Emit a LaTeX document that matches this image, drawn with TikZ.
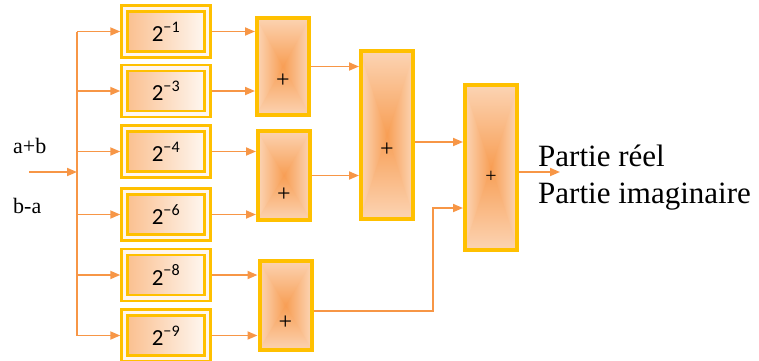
\documentclass[tikz,border=0pt]{standalone}
\usepackage{fontspec}
\setmainfont{Liberation Serif}
\newfontfamily\tms{Liberation Serif}
\newfontfamily\calib{Carlito}
\usetikzlibrary{arrows.meta,backgrounds}
\definecolor{lorange}{HTML}{F79646}
\definecolor{gold}{HTML}{FFC000}
\definecolor{pale}{HTML}{FDE9D9}
\pgfdeclarehorizontalshading{hramp}{100bp}{color(0bp)=(pale); color(18bp)=(pale); color(50bp)=(lorange!90!pale); color(82bp)=(pale); color(100bp)=(pale)}
\pgfdeclareverticalshading{vramp}{100bp}{color(0bp)=(pale); color(16bp)=(pale); color(50bp)=(lorange!90!pale); color(84bp)=(pale); color(100bp)=(pale)}

\begin{document}
\begin{tikzpicture}[x=1pt,y=-1pt,
		mult/.style={draw=gold,line width=2.6pt,double=pale!40!white,double distance=3.2pt,
			left color=lorange!62!white,right color=lorange!6!white,
			minimum width=83pt,minimum height=46pt,inner sep=0pt,outer sep=4.2pt,
			font=\calib\fontsize{23}{27}\selectfont},
		adder/.style={draw=gold,line width=4pt,minimum width=52pt,inner sep=0pt},
		plussign/.style={font=\tms\fontsize{24}{28}\selectfont,inner sep=0pt},
		txt/.style={anchor=base west,inner sep=0pt,font=\tms\fontsize{22}{26}\selectfont},
		wire/.style={draw=lorange,line width=1.8pt},
		arr/.style={wire,-{Triangle[length=10pt,width=8pt]}}]
				 %\draw[color=gray,step=10pt, help lines,opacity=0.3] (0,0) grid (759,360); %help grids
				 \useasboundingbox (0,0) rectangle (759,360);
				 \def\hglass#1{
								\begin{scope}[on background layer]
												\begin{scope}
																\clip ([shift={(2pt,-2pt)}]#1.north west) rectangle ([shift={(-2pt,2pt)}]#1.south east);
																\shade[shading=hramp] (#1.north west) rectangle (#1.south east);
																\begin{scope}
																				\clip (#1.north west) -- (#1.north east) -- (#1.center) -- (#1.south east) -- (#1.south west) -- (#1.center) -- cycle;
																				\shade[shading=vramp] (#1.north west) rectangle (#1.south east);
																\end{scope}
												\end{scope}
								\end{scope}
				 };
				 \node[mult] (m1) at (166,31.5) {2\textsuperscript{−1}};
				 \node[mult] (m2) at (166,91) {2\textsuperscript{−3}};
				 \node[mult] (m3) at (166,151.5) {2\textsuperscript{−4}};
				 \node[mult] (m4) at (166,214.5) {2\textsuperscript{−6}};
				 \node[mult] (m5) at (166,275) {2\textsuperscript{−8}};
				 \node[mult] (m6) at (166,335.5) {2\textsuperscript{−9}};
				 \node[adder,minimum height=97pt] (a1) at (283,66.5) {};
				 \node[adder,minimum height=89pt] (a2) at (284,175.5) {};
				 \node[adder,minimum height=89pt] (a3) at (285.5,305.5) {};
				 \node[adder,minimum height=168pt] (a4) at (387,135) {};
				 \node[adder,minimum height=165pt] (a5) at (491,167.5) {};
				 \hglass{a1};
				 \hglass{a2};
				 \hglass{a3};
				 \hglass{a4};
				 \hglass{a5};
				 \node[plussign] (p1) at ([yshift=-14.5pt]a1.center) {+};
				 \node[plussign] (p2) at ([yshift=-19.5pt]a2.center) {+};
				 \node[plussign] (p3) at ([yshift=-17.5pt]a3.center) {+};
				 \node[plussign] (p4) at ([yshift=-15pt]a4.center) {+};
				 \node[plussign,font=\tms\fontsize{20}{24}\selectfont] (p5) at ([yshift=-9.5pt]a5.center) {+};
				 \node[txt] (ab) at (13,153) {a+b};
				 \node[txt] (ba) at (13,213) {b-a};
				 \coordinate (in) at (29,172);
				 \coordinate (split) at (77,172);
				 \draw[arr] (in) -- (split);
				 \draw[wire] (split |- m1.west) -- (split |- m6.west);
				 \foreach \m in {m1,m2,m3,m4,m5,m6} {\draw[arr] (split |- \m.west) -- (\m.west);}
				 \draw[arr] (m1.east) -- (m1.east -| a1.west);
				 \draw[arr] (m2.east) -- (m2.east -| a1.west);
				 \draw[arr] (m3.east) -- (m3.east -| a2.west);
				 \draw[arr] (m4.east) -- (m4.east -| a2.west);
				 \draw[arr] (m5.east) -- (m5.east -| a3.west);
				 \draw[arr] (m6.east) -- (m6.east -| a3.west);
				 \draw[arr] (a1.east) -- (a1.east -| a4.west);
				 \draw[arr] (a2.east) -- (a2.east -| a4.west);
				 \draw[arr] ([yshift=-7pt]a4.east) -- ([yshift=-7pt]a4.east -| a5.west);
				 \coordinate (e2) at ([yshift=-40.5pt]a5.west);
				 \draw[arr] ([yshift=-5.5pt]a3.east) -| ([xshift=-30pt]e2) -- (e2);
				 \coordinate (out) at ([xshift=41pt,yshift=-4.5pt]a5.east);
				 \draw[arr] ([yshift=-4.5pt]a5.east) -- (out);
				 \node[txt,font=\tms\fontsize{31}{37}\selectfont] (re) at (538,166) {Partie réel};
				 \node[txt,font=\tms\fontsize{31}{37}\selectfont] (im) at (538,203) {Partie imaginaire};
\end{tikzpicture}
\end{document}
